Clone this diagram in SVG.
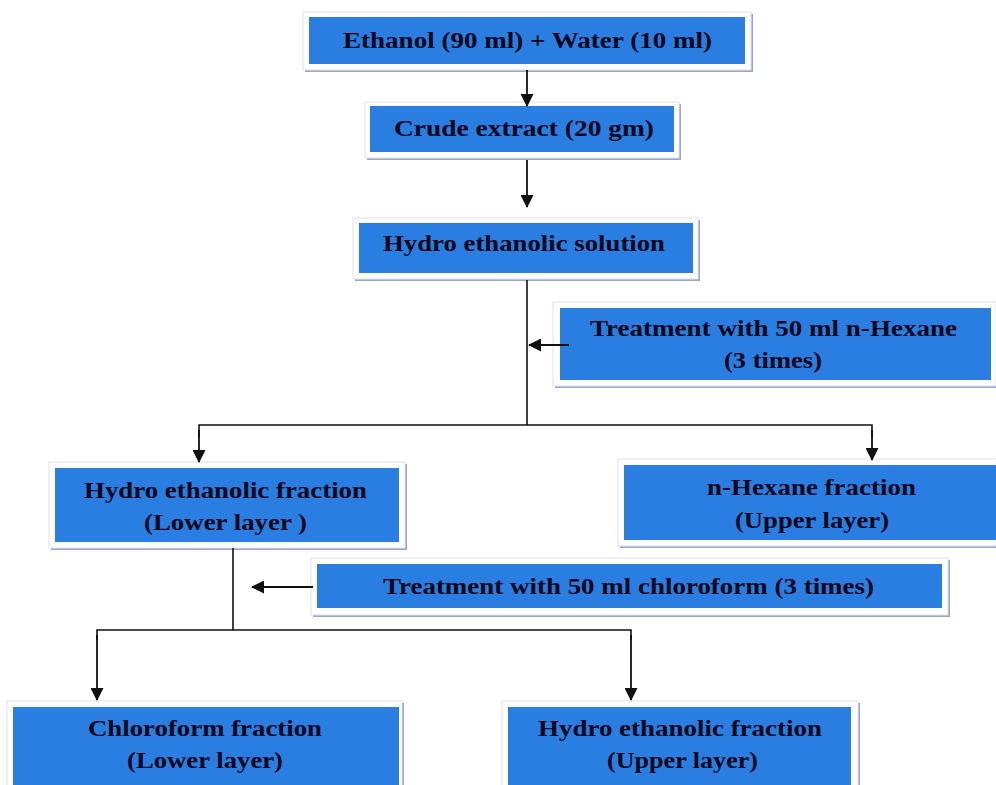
<svg xmlns="http://www.w3.org/2000/svg" width="996" height="785" viewBox="0 0 996 785">
<style>
.sh{fill:#98a6d6}
.fr{fill:#ffffff;stroke:#e2e2e2;stroke-width:1}
.bl{fill:#2a7de1}
.t{font-family:"Liberation Serif","Times New Roman",serif;font-weight:bold;font-size:23px;fill:#08081a;text-anchor:middle}
.ln{stroke:#111;stroke-width:1.6;fill:none}
.ar{stroke:#111;stroke-width:1.8;fill:none;marker-end:url(#ah)}
</style>
<defs>
<marker id="ah" markerWidth="13" markerHeight="13" viewBox="0 0 13 13" refX="12" refY="6.5" orient="auto" markerUnits="userSpaceOnUse">
<path d="M0,0 L13,6.5 L0,13 Z" fill="#111"/>
</marker>
</defs>
<rect width="996" height="785" fill="#ffffff"/>

<g id="n1">
<rect class="sh" x="305" y="14" width="448" height="58"/>
<rect class="fr" x="303" y="12" width="448" height="58"/>
<rect class="bl" x="309" y="17" width="436" height="47"/>
<text class="t" x="527.5" y="48" textLength="369" lengthAdjust="spacingAndGlyphs">Ethanol (90 ml) + Water (10 ml)</text>
</g>

<g id="n2">
<rect class="sh" x="367" y="104" width="314" height="56"/>
<rect class="fr" x="365" y="102" width="314" height="56"/>
<rect class="bl" x="370" y="106" width="304" height="46"/>
<text class="t" x="524" y="136" textLength="260" lengthAdjust="spacingAndGlyphs">Crude extract (20 gm)</text>
</g>

<g id="n3">
<rect class="sh" x="355" y="220" width="345" height="61"/>
<rect class="fr" x="353" y="218" width="345" height="61"/>
<rect class="bl" x="359" y="223" width="334" height="50"/>
<text class="t" x="524" y="251" textLength="282" lengthAdjust="spacingAndGlyphs">Hydro ethanolic solution</text>
</g>

<g id="n4">
<rect class="sh" x="555" y="304" width="443" height="84"/>
<rect class="fr" x="553" y="302" width="443" height="84"/>
<rect class="bl" x="560" y="308" width="431" height="72"/>
<text class="t" x="773.5" y="336" textLength="367" lengthAdjust="spacingAndGlyphs">Treatment with 50 ml n-Hexane</text>
<text class="t" x="773" y="368" textLength="98" lengthAdjust="spacingAndGlyphs">(3 times)</text>
</g>

<g id="n5">
<rect class="sh" x="51" y="464" width="356" height="86"/>
<rect class="fr" x="49" y="462" width="356" height="86"/>
<rect class="bl" x="55" y="468" width="344" height="74"/>
<text class="t" x="225.5" y="498" textLength="283" lengthAdjust="spacingAndGlyphs">Hydro ethanolic fraction</text>
<text class="t" x="225.5" y="530" textLength="163" lengthAdjust="spacingAndGlyphs">(Lower layer )</text>
</g>

<g id="n6">
<rect class="sh" x="620" y="461" width="378" height="87"/>
<rect class="fr" x="618" y="459" width="378" height="87"/>
<rect class="bl" x="624" y="465" width="372" height="75"/>
<text class="t" x="811.5" y="495" textLength="209" lengthAdjust="spacingAndGlyphs">n-Hexane fraction</text>
<text class="t" x="812" y="528" textLength="154" lengthAdjust="spacingAndGlyphs">(Upper layer)</text>
</g>

<g id="n7">
<rect class="sh" x="313" y="560" width="637" height="57"/>
<rect class="fr" x="311" y="558" width="637" height="57"/>
<rect class="bl" x="317" y="564" width="625" height="44"/>
<text class="t" x="628.5" y="594" textLength="491" lengthAdjust="spacingAndGlyphs">Treatment with 50 ml chloroform (3 times)</text>
</g>

<g id="n8">
<rect class="sh" x="9" y="703" width="395" height="90"/>
<rect class="fr" x="7" y="701" width="395" height="90"/>
<rect class="bl" x="13" y="707" width="386" height="80"/>
<text class="t" x="205" y="736" textLength="234" lengthAdjust="spacingAndGlyphs">Chloroform fraction</text>
<text class="t" x="205" y="768" textLength="156" lengthAdjust="spacingAndGlyphs">(Lower layer)</text>
</g>

<g id="n9">
<rect class="sh" x="504" y="703" width="356" height="90"/>
<rect class="fr" x="502" y="701" width="356" height="90"/>
<rect class="bl" x="508" y="707" width="343" height="80"/>
<text class="t" x="680" y="736" textLength="284" lengthAdjust="spacingAndGlyphs">Hydro ethanolic fraction</text>
<text class="t" x="682.5" y="768" textLength="151" lengthAdjust="spacingAndGlyphs">(Upper layer)</text>
</g>

<g id="connectors">
<line class="ar" x1="527" y1="70" x2="527" y2="106"/>
<line class="ar" x1="527" y1="160" x2="527" y2="207"/>
<line class="ln" x1="527" y1="280" x2="527" y2="425"/>
<line class="ar" x1="569" y1="345" x2="529" y2="345"/>
<polyline class="ln" points="199,437 199,425 872,425 872,437"/>
<line class="ar" x1="199" y1="430" x2="199" y2="462"/>
<line class="ar" x1="872" y1="430" x2="872" y2="460"/>
<line class="ln" x1="233" y1="548" x2="233" y2="630"/>
<line class="ar" x1="313" y1="587" x2="252" y2="587"/>
<polyline class="ln" points="97,640 97,630 631,630 631,640"/>
<line class="ar" x1="97" y1="635" x2="97" y2="700"/>
<line class="ar" x1="631" y1="635" x2="631" y2="700"/>
</g>
</svg>
